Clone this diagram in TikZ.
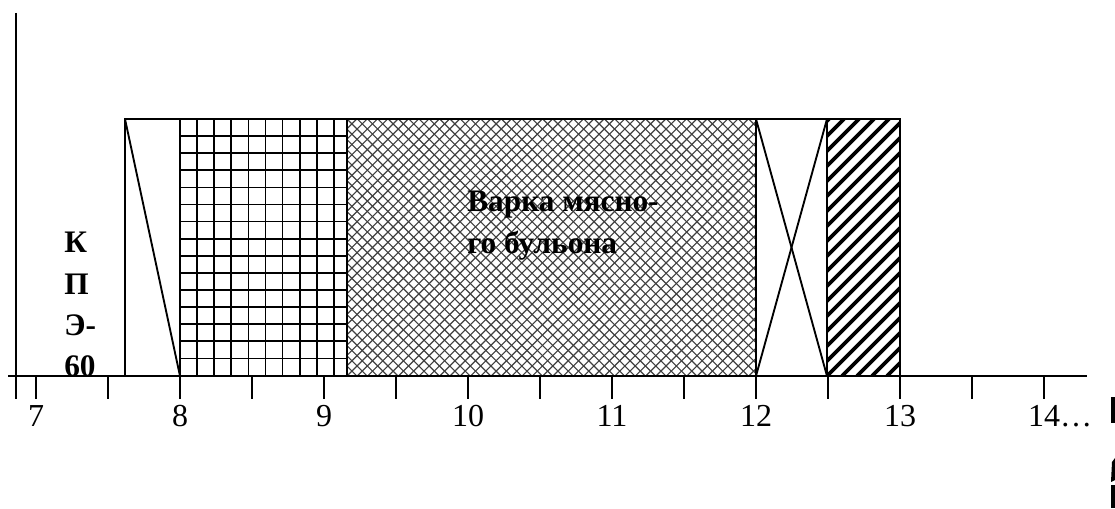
\documentclass[tikz,border=0pt]{standalone}
\usepackage{fontspec}
\setmainfont{Liberation Serif}
\usetikzlibrary{positioning}
\tikzset{
  axisline/.style={line width=1.5pt},
  frameline/.style={line width=1.4pt},
  gridline/.style={line width=1.3pt},
  meshline/.style={line width=0.85pt, black!75},
  stripeline/.style={line width=2.8pt},
  ticklabel/.style={font=\fontsize{24}{24}\selectfont, anchor=north, inner sep=0pt},
  steplabel/.style={font=\bfseries\fontsize{23.5}{31}\selectfont, align=left, inner sep=0pt, anchor=north west}
}

\begin{document}
\begin{tikzpicture}[x=0.75pt, y=-0.75pt]
\useasboundingbox (0,0) rectangle (1115,509);

% axes and half-hour ticks
\draw[axisline] (16,13) -- (16,399);
\draw[axisline] (8,376) -- (1087,376);
\foreach \k in {0,...,14}
  \draw[axisline] (36+72*\k,376) -- ++(0,23);
\foreach \h in {7,...,13}
  \node[ticklabel] (hour\h) at (36+144*\h-1008,405) {\h};
\node[ticklabel] (hour14) at (1044,405) {14\rlap{…}};

% grid segment
\foreach \k in {1,...,9}
  \draw[gridline] (180+17.1*\k,119) -- (180+17.1*\k,376);
\foreach \k in {1,...,14}
  \draw[gridline] (180,119+17.1*\k) -- (347,119+17.1*\k);

% cross-hatched segment
\begin{scope}
  \clip (347,119) rectangle (756,376);
  \foreach \i in {-26,...,40} {
    \draw[meshline] (347+10.3*\i,119) -- ++(257,257);
    \draw[meshline] (347+10.3*\i,376) -- ++(257,-257);
  }
\end{scope}

% striped segment
\begin{scope}
  \clip (827,119) rectangle (900,376);
  \foreach \i in {-19,...,6}
    \draw[stripeline] (827+15*\i,376) -- ++(257,-257);
\end{scope}

% frames
\draw[frameline] (125,119) rectangle (180,376);
\draw[frameline] (125,119) -- (180,376);
\draw[frameline] (180,119) rectangle (347,376);
\draw[frameline] (347,119) rectangle (756,376);
\draw[frameline] (756,119) rectangle (827,376);
\draw[frameline] (756,119) -- (827,376);
\draw[frameline] (756,376) -- (827,119);
\draw[frameline] (827,119) rectangle (900,376);

% labels
\node[steplabel] (kpe) at (64,232) {К\\П\\Э-\\60};
\node[steplabel] (broth) at (467,191) {Варка мясно-\\го бульона};

% clipped glyphs at the right edge
\fill (1111,397) rectangle (1115,423);
\fill (1112,462) -- (1115,458) -- (1115,480) -- (1111,482) -- cycle;
\fill (1111,485) rectangle (1115,508);
\end{tikzpicture}
\end{document}
